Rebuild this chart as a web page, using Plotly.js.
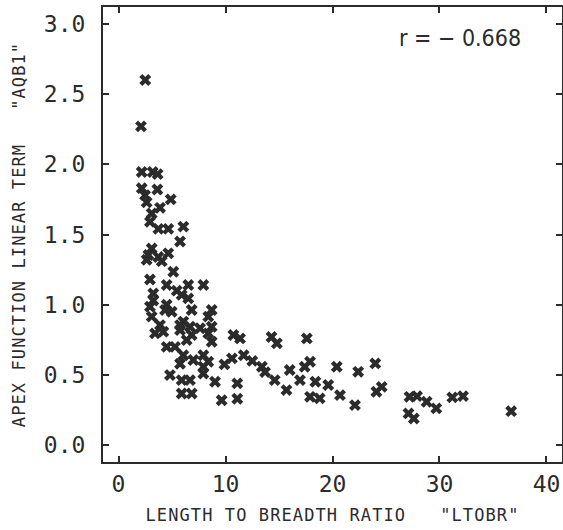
<!DOCTYPE html>
<html>
<head>
<meta charset="utf-8">
<script src="https://cdn.plot.ly/plotly-3.0.1.min.js"></script>
<style>
html,body{margin:0;padding:0;background:#fff;}
#chart{width:563px;height:530px;}
text.xtitle, text.ytitle{letter-spacing:1.1px;}
</style>
</head>
<body>
<div id="chart"></div>
<script>
// Length to breadth ratio (LTOBR)
const ltobr = [
  2.5, 2.1, 2.17, 3.2, 3.66, 2.17, 3.63, 2.48, 4.88, 2.63,
  3.88, 3.1, 2.94, 3.72, 4.65, 6.06, 5.75, 3.1, 2.79, 4.65,
  3.72, 2.63, 4.04, 5.12, 2.94, 4.5, 6.52, 7.93, 3.25, 5.44,
  6.52, 5.9, 3.25, 4.5, 2.94, 4.35, 4.97, 3.1, 6.84, 8.71,
  8.39, 6.06, 3.88, 5.75, 6.68, 7.62, 8.71, 3.41, 4.19, 5.75,
  6.84, 8.39, 6.37, 8.71, 10.73, 4.5, 5.28, 6.06, 7.93, 5.75,
  6.99, 9.9, 10.6, 7.93, 8.39, 11.7, 12.5, 4.81, 5.9, 6.68,
  7.93, 9.02, 11.1, 5.9, 6.84, 9.64, 11.1, 11.36, 14.3, 14.8,
  17.6, 13.4, 13.7, 14.6, 15.7, 16.0, 16.96, 17.4, 17.9, 18.4,
  19.6, 20.4, 17.9, 18.8, 20.7, 22.4, 24.0, 24.6, 24.1, 22.1,
  27.2, 27.9, 28.8, 29.7, 31.2, 32.2, 27.1, 27.6, 36.7
];
// Apex function linear term (AQB1)
const aqb1 = [
  2.60, 2.27, 1.945, 1.945, 1.93, 1.83, 1.82, 1.78, 1.75, 1.73,
  1.69, 1.65, 1.59, 1.54, 1.54, 1.556, 1.45, 1.40, 1.354, 1.366,
  1.34, 1.32, 1.31, 1.235, 1.18, 1.14, 1.14, 1.14, 1.08, 1.10,
  1.045, 1.07, 1.03, 1.0, 0.986, 0.962, 0.95, 0.915, 0.962, 0.962,
  0.915, 0.88, 0.855, 0.855, 0.843, 0.832, 0.843, 0.796, 0.808, 0.82,
  0.784, 0.796, 0.748, 0.736, 0.784, 0.70, 0.70, 0.64, 0.64, 0.58,
  0.606, 0.575, 0.618, 0.558, 0.594, 0.64, 0.60, 0.499, 0.463, 0.463,
  0.51, 0.451, 0.44, 0.368, 0.368, 0.32, 0.33, 0.76, 0.77, 0.725,
  0.76, 0.558, 0.52, 0.463, 0.392, 0.535, 0.463, 0.558, 0.594, 0.451,
  0.428, 0.558, 0.344, 0.333, 0.356, 0.522, 0.582, 0.415, 0.38, 0.285,
  0.344, 0.349, 0.309, 0.262, 0.34, 0.349, 0.226, 0.19, 0.242
];
const xTicks = [0, 10, 20, 30, 40];
const yTicks = [0.0, 0.5, 1.0, 1.5, 2.0, 2.5, 3.0];
const rText = 'r = \u2212 0.668';
const xTitle = 'LENGTH TO BREADTH RATIO   "LTOBR"';
const yTitle = 'APEX FUNCTION LINEAR TERM   "AQB1"';

const ink = '#2b2b2b';
const mono = '"DejaVu Sans Mono", "Liberation Mono", monospace';

const trace = {
  x: ltobr, y: aqb1, type: 'scatter', mode: 'markers',
  marker: {symbol: 'x', size: 10.5, color: ink, line: {width: 0}},
  hoverinfo: 'x+y'
};

const axisCommon = {
  showgrid: false, zeroline: false,
  showline: true, linecolor: ink, linewidth: 2, mirror: 'ticks',
  ticks: 'inside', ticklen: 6, tickwidth: 2, tickcolor: ink,
  tickfont: {family: mono, size: 23, color: ink}
};

const layout = {
  width: 563, height: 530,
  margin: {l: 103, r: 1, t: 7, b: 68},
  paper_bgcolor: '#fff', plot_bgcolor: '#fff',
  showlegend: false,
  xaxis: Object.assign({}, axisCommon, {
    range: [-1.45, 41.45], tickmode: 'array', tickvals: xTicks,
    ticktext: xTicks.map(String),
    title: {text: xTitle, font: {family: mono, size: 17, color: ink}, standoff: 14}
  }),
  yaxis: Object.assign({}, axisCommon, {
    range: [-0.12, 3.12], tickmode: 'array', tickvals: yTicks,
    ticktext: yTicks.map(v => v.toFixed(1)),
    ticklabelstandoff: 11,
    title: {text: yTitle, font: {family: mono, size: 17, color: ink}, standoff: 14}
  }),
  annotations: [{
    x: 31.9, y: 2.90, xref: 'x', yref: 'y', text: rText, showarrow: false,
    font: {family: '"Liberation Sans Narrow", "DejaVu Sans Condensed", sans-serif', size: 23, color: ink}
  }]
};

Plotly.newPlot('chart', [trace], layout, {displayModeBar: false, staticPlot: true});
</script>
</body>
</html>
